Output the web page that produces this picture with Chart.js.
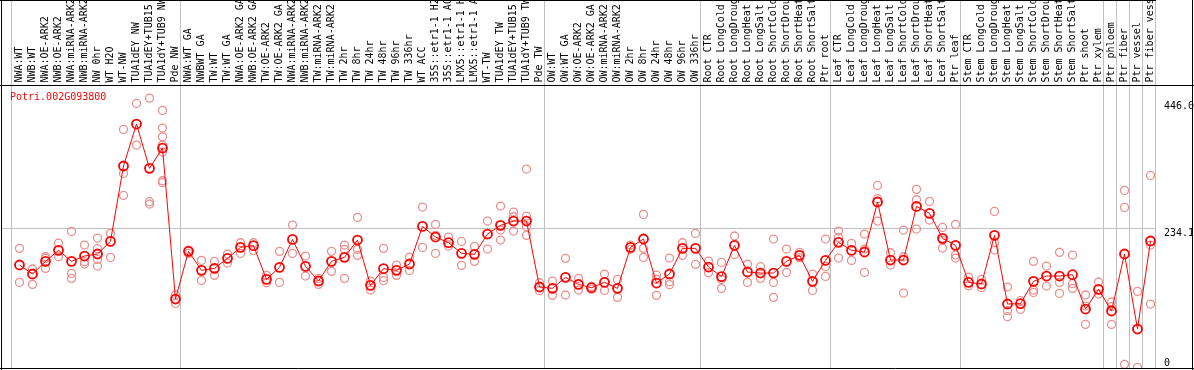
<!DOCTYPE html>
<html>
<head>
<meta charset="utf-8">
<script src="https://cdn.jsdelivr.net/npm/chart.js@4.4.0/dist/chart.umd.min.js"></script>
<style>
  html, body { margin: 0; padding: 0; background: #fff; }
  canvas { display: block; }
</style>
</head>
<body>
<canvas id="chart" width="1194" height="370"></canvas>
<script>
const geneName = 'Potri.002G093800';

// sample names, as printed (cut to 14 chars)
const sampleLabels = [
  'NWA:WT', 'NWB:WT', 'NWA:OE-ARK2', 'NWB:OE-ARK2', 'NWA:miRNA-ARK2', 'NWB:miRNA-ARK2',
  'NW 0hr', 'WT H2O', 'WT-NW', 'TUA1dEY NW', 'TUA1dEY+TUB15', 'TUA1dY+TUB9 NW', 'Pde NW',
  'NWA:WT GA', 'NWBWT GA', 'TW:WT', 'TW:WT GA', 'NWA:OE-ARK2 GA', 'NWB:OE-ARK2 GA',
  'TW:OE-ARK2', 'TW:OE-ARK2 GA', 'NWA:miRNA-ARK2', 'NWB:miRNA-ARK2', 'TW:miRNA-ARK2',
  'TW:miRNA-ARK2', 'TW 2hr', 'TW 8hr', 'TW 24hr', 'TW 48hr', 'TW 96hr', 'TW 336hr',
  'WT ACC', '35S::etr1-1 H2', '35S::etr1-1 AC', 'LMX5::etr1-1 H', 'LMX5::etr1-1 A',
  'WT-TW', 'TUA1dEY TW', 'TUA1dEY+TUB15', 'TUA1dY+TUB9 TW', 'Pde TW',
  'OW:WT', 'OW:WT GA', 'OW:OE-ARK2', 'OW:OE-ARK2 GA', 'OW:miRNA-ARK2', 'OW:miRNA-ARK2',
  'OW 2hr', 'OW 8hr', 'OW 24hr', 'OW 48hr', 'OW 96hr', 'OW 336hr',
  'Root CTR', 'Root LongCold', 'Root LongDroug', 'Root LongHeat', 'Root LongSalt',
  'Root ShortCold', 'Root ShortDrou', 'Root ShortHeat', 'Root ShortSalt', 'Ptr root',
  'Leaf CTR', 'Leaf LongCold', 'Leaf LongDroug', 'Leaf LongHeat', 'Leaf LongSalt',
  'Leaf ShortCold', 'Leaf ShortDrou', 'Leaf ShortHeat', 'Leaf ShortSalt', 'Ptr leaf',
  'Stem CTR', 'Stem LongCold', 'Stem LongDroug', 'Stem LongHeat', 'Stem LongSalt',
  'Stem ShortCold', 'Stem ShortDrou', 'Stem ShortHeat', 'Stem ShortSalt', 'Ptr shoot',
  'Ptr xylem', 'Ptr phloem', 'Ptr fiber', 'Ptr vessel', 'Ptr fiber vess'
];

const meanValues = [
  172.8, 157.8, 178.9, 197.3, 178.9, 187.8, 191.2, 212.3, 338.1, 408.2,
  334.2, 368.1, 116.0, 195.6, 163.9, 167.2, 183.9, 202.3, 205.1, 148.9,
  168.9, 215.6, 170.6, 146.1, 178.9, 185.6, 214.5, 138.8, 166.7, 163.9,
  174.5, 237.3, 219.5, 210.1, 192.3, 190.6, 224.5, 239.0, 246.2, 246.2,
  136.1, 133.8, 152.2, 140.5, 134.9, 143.9, 133.8, 202.3, 216.2, 142.7,
  157.8, 200.6, 200.6, 169.4, 153.3, 205.6, 161.1, 159.4, 159.4, 178.9,
  188.9, 145.5, 180.6, 210.6, 197.3, 194.5, 278.0, 181.1, 181.1, 270.7,
  259.0, 217.3, 205.6, 143.9, 141.1, 222.3, 107.7, 108.2, 145.5, 154.4,
  154.4, 156.6, 99.3, 132.2, 96.0, 191.2, 65.9, 212.9
];

const replicateValues = [
  [200.6, 143.8], [166.1, 140.5], [186.6, 183.9, 167.2], [209.5, 186.6],
  [228.9, 158.8, 150.5], [206.1, 178.3, 174.4], [217.8, 200.0, 182.2, 171.1], [225.6, 185.5],
  [399.2, 325.8, 289.0], [442.6, 373.1], [451.5, 278.5, 274.6],
  [431.0, 401.5, 387.0, 373.1, 361.4, 313.5, 310.2], [122.7, 108.7],
  [197.8, 192.2], [180.5, 147.1], [178.9, 155.5], [191.1, 176.1], [210.0, 192.2],
  [210.0, 197.2], [155.5, 143.2], [195.6, 143.8], [239.5, 192.2], [187.8, 154.4],
  [150.5, 140.5], [195.6, 162.2], [206.1, 198.9, 150.5], [252.3, 198.9, 188.9],
  [146.0, 131.0], [200.6, 152.1, 146.6], [172.7, 155.5], [186.1, 163.8], [269.6, 202.2],
  [240.6, 222.3, 192.2], [219.5, 204.5], [212.2, 172.2], [203.9, 178.9], [246.2, 199.4],
  [271.2, 231.2, 214.5], [261.2, 253.4, 229.5], [333.0, 254.5, 236.7, 222.3], [143.2, 129.9],
  [146.0, 122.1], [183.9, 122.7], [150.5, 131.0], [137.0, 132.5], [157.7, 130.4],
  [148.8, 118.8], [206.1, 199.0], [257.3, 200.6, 185.5], [156.0, 148.8, 122.1],
  [184.4, 144.9, 139.9], [210.0, 188.9], [225.6, 173.9],
  [179.4, 159.9], [177.2, 148.8, 133.8], [221.2, 190.5], [174.4, 143.8], [170.0, 150.5],
  [216.1, 143.8, 118.8], [199.4, 160.5], [193.9, 185.0], [157.7, 130.4], [216.1, 170.0, 153.8],
  [229.5, 218.9, 184.4], [208.9, 180.5], [224.5, 199.4, 160.5], [305.7, 283.5, 246.2],
  [193.3, 172.7], [231.2, 186.6, 126.0], [299.1, 281.8, 232.8], [279.0, 247.9],
  [235.6, 214.5, 201.1], [240.6, 189.4, 184.4],
  [152.7, 138.2], [148.8, 134.9], [262.3, 210.0, 197.8], [136.0, 96.5, 86.5], [113.2, 98.7],
  [178.9, 131.0, 127.1], [171.1, 137.7], [193.9, 143.8, 125.4], [189.4, 141.6, 133.8],
  [122.7, 104.3, 73.7], [144.4, 124.3], [111.0, 103.2, 73.7], [297.4, 269.0, 6.9],
  [128.8, 1.9], [322.4, 206.1, 107.6]
];

// first sample index of each tissue group (last entry = end)
const groupStarts = [0, 13, 41, 53, 63, 73, 84, 85, 86, 87, 88];
const yTickValues = [0, 234.1, 446.0];

const meanPoints = meanValues.map((v, i) => ({ x: i, y: v }));
const repPoints = replicateValues.flatMap((list, i) => list.map(v => ({ x: i, y: v })));

Chart.defaults.font.family = '"DejaVu Sans Mono", monospace';
Chart.defaults.font.size = 10;
Chart.defaults.color = '#000';

const xMin = -1.346, xMax = 87.423;

function noPadding(s) {
  s.paddingLeft = 0;
  s.paddingRight = 0;
  s.paddingTop = 0;
  s.paddingBottom = 0;
}

// group separators + black frame + gene name
const framePlugin = {
  id: 'frame',
  beforeDatasetsDraw(chart) {
    const { ctx, scales: { x } } = chart;
    ctx.save();
    ctx.strokeStyle = '#c0c0c0';
    ctx.lineWidth = 1;
    ctx.beginPath();
    groupStarts.forEach(s => {
      const px = Math.round(x.getPixelForValue(s - 0.65) - 0.5) + 0.5;
      ctx.moveTo(px, 0);
      ctx.lineTo(px, chart.chartArea.bottom);
    });
    ctx.stroke();
    ctx.restore();
  },
  afterDraw(chart) {
    const { ctx, width, chartArea } = chart;
    ctx.save();
    ctx.strokeStyle = '#000';
    ctx.lineWidth = 1;
    ctx.beginPath();
    ctx.moveTo(1.5, 0); ctx.lineTo(1.5, chart.height);
    ctx.moveTo(width - 1.5, 0); ctx.lineTo(width - 1.5, chart.height);
    ctx.moveTo(0, 0.5); ctx.lineTo(chartArea.right, 0.5);
    ctx.moveTo(0, 85.5); ctx.lineTo(width, 85.5);
    ctx.moveTo(0, chartArea.bottom); ctx.lineTo(width, chartArea.bottom);
    ctx.stroke();
    ctx.fillStyle = '#ff0000';
    ctx.font = '10px "DejaVu Sans Mono"';
    ctx.textBaseline = 'middle';
    ctx.fillText(geneName, 10, 97);
    ctx.restore();
  }
};

new Chart(document.getElementById('chart'), {
  data: {
    datasets: [
      {
        type: 'line',
        data: meanPoints,
        borderColor: '#ff0000',
        borderWidth: 1,
        pointStyle: 'circle',
        pointRadius: 4.5,
        pointBorderWidth: 1.8,
        pointBorderColor: '#ff0000',
        pointBackgroundColor: 'rgba(0,0,0,0)',
        tension: 0,
        order: 0
      },
      {
        type: 'scatter',
        data: repPoints,
        pointStyle: 'circle',
        pointRadius: 4,
        pointBorderWidth: 1.3,
        pointBorderColor: '#e99090',
        pointBackgroundColor: 'rgba(0,0,0,0)',
        order: 1
      }
    ]
  },
  options: {
    responsive: false,
    animation: false,
    devicePixelRatio: 1,
    layout: { autoPadding: false, padding: { top: 0, left: 2, right: 0, bottom: 1.5 } },
    plugins: { legend: { display: false }, tooltip: { enabled: false } },
    scales: {
      x: {
        type: 'linear',
        display: false,
        min: xMin,
        max: xMax
      },
      xTop: {
        type: 'linear',
        position: 'top',
        min: xMin,
        max: xMax,
        grid: { display: false, drawTicks: false },
        border: { display: false },
        afterBuildTicks: s => { s.ticks = sampleLabels.map((_, i) => ({ value: i })); },
        afterFit: s => { s.height = 86; noPadding(s); },
        ticks: {
          autoSkip: false,
          minRotation: 90,
          maxRotation: 90,
          padding: 3.5,
          labelOffset: 12,
          callback: (v, i) => sampleLabels[i]
        }
      },
      y: {
        type: 'linear',
        position: 'right',
        min: 0,
        max: 471.7,
        grid: {
          drawTicks: false,
          color: c => (c.tick && c.tick.value === 234.1 ? '#c0c0c0' : 'rgba(0,0,0,0)')
        },
        border: { display: false },
        afterBuildTicks: s => { s.ticks = yTickValues.map(v => ({ value: v })); },
        afterFit: s => { s.width = 38; noPadding(s); },
        ticks: {
          padding: 8,
          labelOffset: 5,
          font: { lineHeight: 2 },
          callback: v => (v === 0 ? ['0', ''] : v.toFixed(1))
        }
      }
    }
  },
  plugins: [framePlugin]
});
</script>
</body>
</html>
